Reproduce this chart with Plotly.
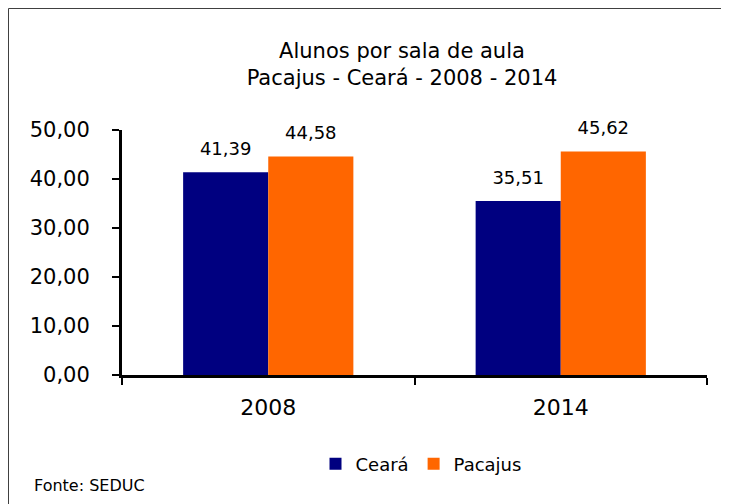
import plotly.graph_objects as go

categories = ["2008", "2014"]
ceara = [41.39, 35.51]
pacajus = [44.58, 45.62]
series_names = ["Ceará", "Pacajus"]
title_text = "Alunos por sala de aula<br>Pacajus - Ceará - 2008 - 2014"
source_text = "Fonte: SEDUC"
y_ticks = [0, 10, 20, 30, 40, 50]

W, H = 729, 504
L, R, T, B = 114, 30, 122, 137
pw, ph = W - L - R, H - T - B

def px_x(px):
    return (px - L) / pw

def px_y(py):
    return (H - B - py) / ph

font_main = "DejaVu Sans, Verdana, sans-serif"
colors = ["#000080", "#FF6600"]
series = [ceara, pacajus]

fig = go.Figure()
for name, vals, col in zip(series_names, series, colors):
    fig.add_trace(go.Bar(
        x=categories, y=vals, name=name,
        marker=dict(color=col, line=dict(width=0)),
        offsetgroup=name, alignmentgroup="g",
        hoverinfo="skip",
    ))
for name, vals in zip(series_names, series):
    fig.add_trace(go.Scatter(
        x=categories, y=vals, mode="text+markers",
        marker=dict(size=19, opacity=0, color="white"),
        text=[f"{v:.2f}".replace(".", ",") for v in vals],
        textposition="top center",
        textfont=dict(size=18, color="black", family=font_main),
        offsetgroup=name, alignmentgroup="g",
        showlegend=False, cliponaxis=False, hoverinfo="skip",
    ))

fig.update_layout(
    width=W, height=H,
    margin=dict(l=L, r=R, t=T, b=B),
    paper_bgcolor="white", plot_bgcolor="white",
    separators=",.",
    barmode="group", bargap=0.418, bargroupgap=0,
    scattermode="group", scattergap=0.418,
    font=dict(family=font_main, color="black"),
    title=dict(text=title_text, x=394 / W, xanchor="center",
               y=1 - 50 / H, yanchor="middle",
               font=dict(size=21, color="black", family=font_main)),
    showlegend=True,
    legend=dict(orientation="h", x=px_x(413), xanchor="center",
                y=px_y(456), yanchor="middle",
                font=dict(size=18, color="black", family=font_main),
                itemwidth=30, tracegroupgap=0, bgcolor="rgba(0,0,0,0)"),
    xaxis=dict(type="category", showline=True, linecolor="black", linewidth=3,
               ticks="outside", tickson="boundaries", ticklen=7, tickwidth=2,
               tickcolor="black", showgrid=False, zeroline=False,
               ticklabelstandoff=11,
               tickfont=dict(size=22, color="black", family=font_main)),
    yaxis=dict(range=[0, 50], tickvals=y_ticks, tickformat=".2f",
               showline=True, linecolor="black", linewidth=3,
               ticks="outside", ticklen=7, tickwidth=2, tickcolor="black",
               showgrid=False, zeroline=False,
               ticklabelstandoff=18,
               tickfont=dict(size=21, color="black", family=font_main)),
    shapes=[
        dict(type="line", xref="paper", yref="paper",
             x0=px_x(0.5), y0=px_y(0.5), x1=px_x(740), y1=px_y(0.5),
             line=dict(color="#404040", width=1)),
        dict(type="line", xref="paper", yref="paper",
             x0=px_x(0.5), y0=px_y(0.5), x1=px_x(0.5), y1=px_y(520),
             line=dict(color="#404040", width=1)),
    ],
    annotations=[
        dict(text=source_text, xref="paper", yref="paper",
             x=px_x(24), y=px_y(477), xanchor="left", yanchor="middle",
             showarrow=False, font=dict(size=16, color="black", family=font_main)),
    ],
)

fig.write_html("out.html")
